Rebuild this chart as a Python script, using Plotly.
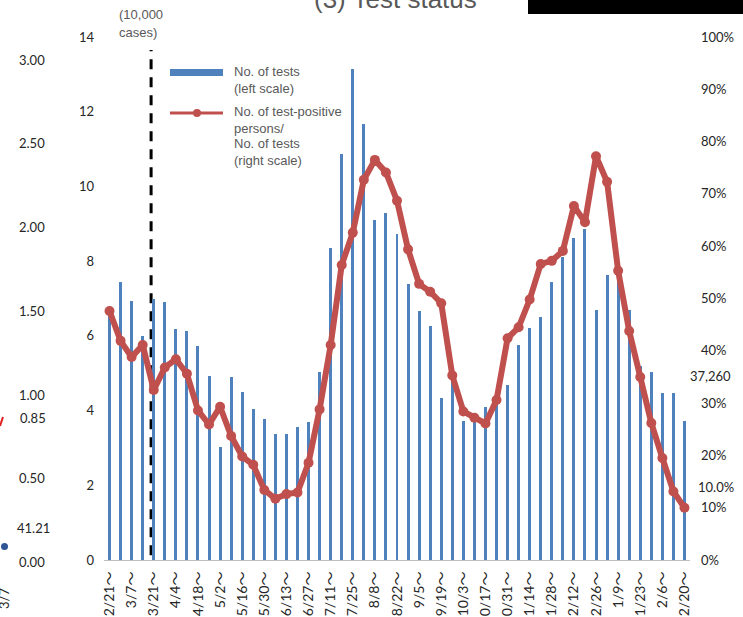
import plotly.graph_objects as go

# ---------------- data ----------------
week_index = list(range(53))
# tick labels as they appear in the (bottom-cropped) reference
tick_labels = ["2/21～", "3/7～", "3/21～", "4/4～", "4/18～", "5/2～", "5/16～", "5/30～",
               "6/13～", "6/27～", "7/11～", "7/25～", "8/8～", "8/22～", "9/5～", "9/19～",
               "10/3～", "0/17～", "0/31～", "1/14～", "1/28～", "2/12～", "2/26～",
               "1/9～", "1/23～", "2/6～", "2/20～"]
tests_10k = [6.6, 7.44, 6.93, 6.0, 6.99, 6.9, 6.18, 6.13, 5.73, 4.92, 3.02, 4.9, 4.5,
             4.04, 3.77, 3.37, 3.37, 3.56, 3.69, 5.03, 8.35, 10.87, 13.14, 11.67, 9.1,
             9.29, 8.73, 7.39, 6.66, 6.26, 4.34, 5.0, 3.72, 3.75, 4.1, 4.3, 4.68, 5.75,
             6.21, 6.5, 7.44, 8.11, 8.62, 8.86, 6.69, 7.63, 7.87, 6.69, 5.2, 5.03, 4.47,
             4.47, 3.726]
positive_rate = [47.6, 41.9, 38.8, 41.1, 32.5, 36.8, 38.4, 35.6, 28.6, 25.9, 29.3, 23.7,
                 19.8, 18.2, 13.4, 11.7, 12.6, 12.9, 18.6, 28.8, 41.1, 56.4, 62.6, 72.7,
                 76.5, 74.1, 68.7, 59.4, 52.8, 51.3, 49.1, 35.3, 28.4, 27.2, 26.1, 30.6,
                 42.4, 44.5, 49.8, 56.6, 57.2, 59.1, 67.7, 64.6, 77.2, 72.3, 55.3, 43.8,
                 35.0, 26.2, 19.5, 13.1, 10.0]
left_ticks = [0, 2, 4, 6, 8, 10, 12, 14]
right_ticks = [0, 10, 20, 30, 40, 50, 60, 70, 80, 90, 100]
# neighbouring (cropped) chart's leftover labels
side_labels = ["3.00", "2.50", "2.00", "1.50", "1.00", "0.50", "0.00"]

# ---------------- layout helpers ----------------
W, H = 743, 617
ML, MR, MT, MB = 104, 53, 37, 57
PW, PH = W - ML - MR, H - MT - MB


def px(x):
    return (x - ML) / PW


def py(y):
    return (H - MB - y) / PH


BLUE = "#4F81BD"
RED = "#C0504D"
GREY = "#595959"
DARK = "#262626"
lato = "Lato, Liberation Sans, sans-serif"
TICKFONT = dict(family=lato, size=13, color=DARK)
XTICKFONT = dict(family="Lato, Noto Sans CJK JP, sans-serif", size=14, color=DARK)

fig = go.Figure()
fig.add_trace(go.Bar(x=week_index, y=tests_10k, width=0.27, marker=dict(color=BLUE, line=dict(width=0)),
                     name="No. of tests", showlegend=False))
fig.add_trace(go.Scatter(x=week_index, y=positive_rate, yaxis="y2", mode="lines+markers",
                         line=dict(color=RED, width=6), marker=dict(color=RED, size=10),
                         showlegend=False))

shapes = []
# vertical dashed separator
shapes.append(dict(type="line", xref="x", yref="y", x0=3.76, x1=3.76, y0=0.13, y1=13.65,
                   line=dict(color="black", width=3, dash="10px,8px"), layer="below"))
# manual legend
shapes.append(dict(type="rect", xref="paper", yref="paper", x0=px(170), x1=px(223),
                   y0=py(76), y1=py(69), fillcolor=BLUE, line=dict(width=0)))
shapes.append(dict(type="line", xref="paper", yref="paper", x0=px(170), x1=px(223),
                   y0=py(113), y1=py(113), line=dict(color=RED, width=3)))
shapes.append(dict(type="circle", xref="paper", yref="paper", x0=px(193), x1=px(201),
                   y0=py(117), y1=py(109), fillcolor=RED, line=dict(width=0)))
# black box at top right
shapes.append(dict(type="rect", xref="paper", yref="paper", x0=px(528), x1=px(748),
                   y0=py(14), y1=py(-5), fillcolor="black", line=dict(width=0)))
# fragments of neighbouring chart
shapes.append(dict(type="line", xref="paper", yref="paper", x0=px(0), x1=px(3),
                   y0=py(426), y1=py(417), line=dict(color="#E02020", width=2)))
shapes.append(dict(type="circle", xref="paper", yref="paper", x0=px(1), x1=px(8),
                   y0=py(550), y1=py(543), fillcolor="#2F5597", line=dict(width=0)))

ann = []


def add_text(text, x, y, size=13, color=GREY, family="Liberation Sans, Arial, sans-serif",
             xanchor="left", yanchor="middle", angle=0):
    ann.append(dict(text=text, x=px(x), y=py(y), xref="paper", yref="paper", showarrow=False,
                    xanchor=xanchor, yanchor=yanchor, textangle=angle,
                    font=dict(size=size, color=color, family=family)))


add_text("(3) Test status", 479, 16, size=26, color=GREY, xanchor="right", yanchor="bottom")
add_text("(10,000", 117, 15)
add_text("cases)", 117, 32)
add_text("No. of tests", 232, 72)
add_text("(left scale)", 232, 88)
add_text("No. of test-positive", 232, 112)
add_text("persons/", 232, 128)
add_text("No. of tests", 232, 143)
add_text("(right scale)", 232, 160)

side_y = [60, 143, 227, 311, 395, 478, 562]
for lab, yy in zip(side_labels, side_y):
    add_text(lab, 47, yy, size=13, color=DARK, family=lato, xanchor="right")
add_text("0.85", 48, 418, size=13, color=DARK, family=lato, xanchor="right")
add_text("41.21", 52, 528, size=13, color=DARK, family=lato, xanchor="right")
add_text("3/7", 4, 598, size=13, color=DARK, family=lato, xanchor="center", angle=-90)
add_text("37,260", 688, 376, size=13, color=DARK, family=lato)
add_text("10.0%", 696, 487, size=13, color=DARK, family=lato)

fig.update_layout(
    width=W, height=H,
    margin=dict(l=ML, r=MR, t=MT, b=MB, pad=0),
    paper_bgcolor="white", plot_bgcolor="white",
    showlegend=False,
    bargap=0,
    xaxis=dict(range=[-0.5, 52.5], tickmode="array", tickvals=week_index[::2], ticktext=tick_labels,
               tickangle=-90, showline=True, linecolor="#BFBFBF", linewidth=1, showgrid=False,
               zeroline=False, ticks="", automargin=False, tickfont=XTICKFONT, ticklabelstandoff=5),
    yaxis=dict(range=[0, 14], tickmode="array", tickvals=left_ticks, showgrid=False, zeroline=False,
               showline=False, ticks="", automargin=False, tickfont=TICKFONT, ticklabelstandoff=9),
    yaxis2=dict(range=[0, 100], tickmode="array", tickvals=right_ticks,
                ticktext=[f"{v}%" for v in right_ticks], overlaying="y", side="right",
                showgrid=False, zeroline=False, showline=False, ticks="", automargin=False,
                tickfont=TICKFONT, ticklabelstandoff=10),
    shapes=shapes,
    annotations=ann,
)

fig.write_html("out.html", config={"displayModeBar": False},
               post_script="document.body.style.margin='0px';document.body.style.overflow='hidden';")
